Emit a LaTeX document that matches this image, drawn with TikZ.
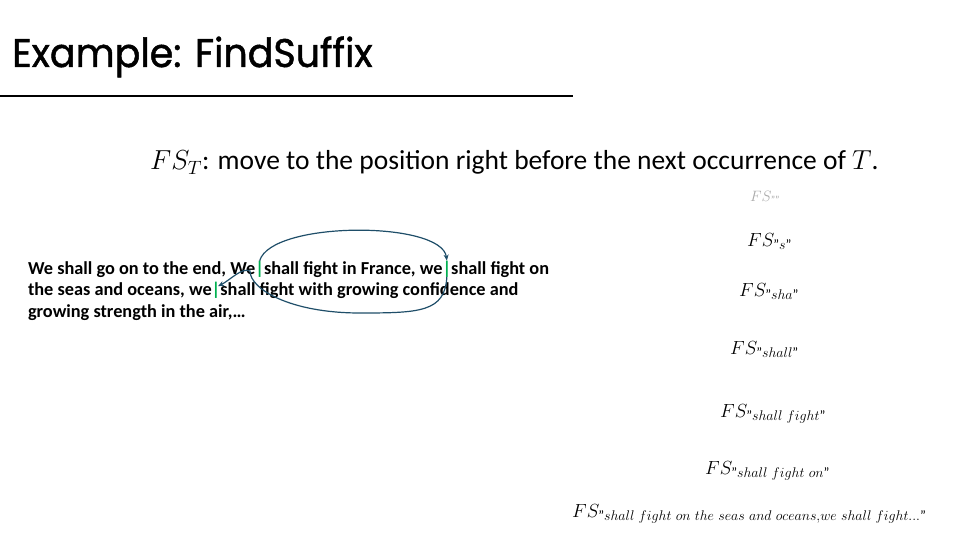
\RequirePackage{fix-cm}
\documentclass[tikz,border=0pt]{standalone}
\usepackage{amsmath}
\usepackage{fontspec}
\setmainfont{Carlito}
\newfontfamily\titlefont{Poppins}[FakeBold=1.2,FakeStretch=0.95]
\usetikzlibrary{arrows.meta}
\definecolor{arrc}{RGB}{31,78,105}
\definecolor{barg}{RGB}{0,176,80}
\definecolor{lgray}{RGB}{170,170,170}
\DeclareMathSizes{19}{19}{14}{10}
\newcommand{\dq}{\text{"}}
\tikzset{
  txt/.style={anchor=base west, inner sep=0pt, outer sep=0pt, font=\fontsize{18.3}{22}\selectfont\bfseries},
  gbar/.style={anchor=base west, inner sep=0pt, outer sep=0pt, text=barg, font=\fontsize{18.3}{22}\selectfont\bfseries},
  fslab/.style={anchor=base west, inner sep=0pt, font=\fontsize{19}{22}\selectfont},
  arr/.style={draw=arrc, line width=1.2pt, -{Stealth[length=6pt,width=5pt]}}
}
\begin{document}
\begin{tikzpicture}[x=1pt,y=-1pt]
\useasboundingbox (0,0) rectangle (960,540);
% title
\node[anchor=base west, inner sep=0pt, font=\fontsize{40}{44}\selectfont\titlefont] (title) at (12,67) {Example: FindSuffix};
\coordinate (rl) at (0,96);
\coordinate (rr) at (573,96);
\draw[line width=2pt] (rl) -- (rr);
% subtitle
\node[anchor=base west, inner sep=0pt, font=\fontsize{27.5}{32}\selectfont] (sub) at (150,170) {$FS_T$: move to the position right before the next occurrence of $T$.};
% paragraph
\node[txt] (l1a) at (28,274) {We shall go on to the end, We\ };
\node[gbar] (bar1) at (l1a.base east) {|};
\node[txt] (l1b) at (bar1.base east) {shall fight in France, we\ };
\node[gbar] (bar2) at (l1b.base east) {|};
\node[txt] (l1c) at (bar2.base east) {shall fight on};
\node[txt] (l2a) at (28,295.5) {the seas and oceans, we\ };
\node[gbar] (bar3) at (l2a.base east) {|};
\node[txt] (l2b) at (bar3.base east) {shall fight with growing confidence and};
\node[txt] (l3) at (28,317) {growing strength in the air,…};
% arrows
\coordinate (m2) at (360,313);
\coordinate (pk) at (250,271);
\draw[arr] (bar1.north) .. controls +(12,-40) and +(-5,-40) .. (bar2.north);
\draw[arr] (bar2.south) .. controls +(-2,35) and +(60,0) .. (m2)
  .. controls +(-70,0) and +(0,18) .. (pk)
  .. controls +(-8,-4) and +(12,-6) .. ([yshift=-4pt,xshift=2pt]bar3.north);
% FS labels
\node[anchor=base west, inner sep=0pt, text=lgray, font=\fontsize{15}{17}\selectfont] (fs0) at (750,201) {$FS_{\dq\dq}$};
\node[fslab] (fs1) at (747,246) {$FS_{\dq s\dq}$};
\node[fslab] (fs2) at (739,296) {$FS_{\dq sha\dq}$};
\node[fslab] (fs3) at (730,354) {$FS_{\dq shall\dq}$};
\node[fslab] (fs4) at (720,417) {$FS_{\dq shall\ fight\dq}$};
\node[fslab] (fs5) at (705,474) {$FS_{\dq shall\ fight\ on\dq}$};
\node[fslab] (fs6) at (572,517) {$FS_{\dq shall\ fight\ on\ the\ seas\ and\ oceans,we\ shall\ fight\ldots\dq}$};
\end{tikzpicture}
\end{document}
